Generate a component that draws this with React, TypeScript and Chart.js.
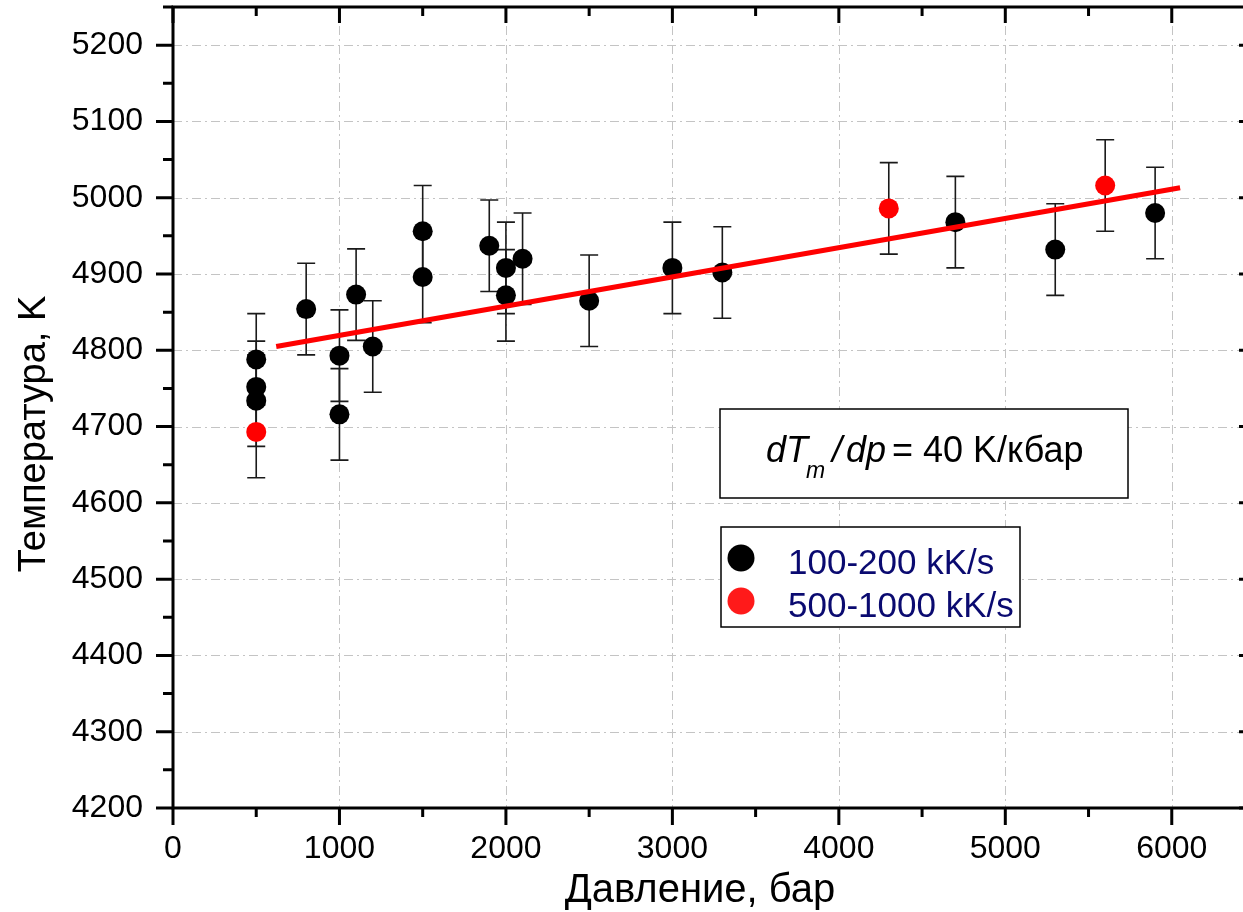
import React, { useEffect, useRef } from "react";
import { Chart, registerables } from "chart.js";

Chart.register(...registerables);

// ---- data ----
const blackX = [500, 500, 500, 800, 1000, 1000, 1100, 1200, 1500, 1500, 1900, 2000, 2000, 2100, 2500, 3000, 3300, 4700, 5300, 5900];
const blackY = [4788, 4752, 4734, 4854, 4793, 4716, 4873, 4805, 4956, 4896, 4937, 4908, 4872, 4920, 4865, 4908, 4902, 4968, 4932, 4980];
const blackErr = [60, 60, 60, 60, 60, 60, 60, 60, 60, 60, 60, 60, 60, 60, 60, 60, 60, 60, 60, 60];

const redX = [500, 4300, 5600];
const redY = [4693, 4986, 5016];
const redErr = [60, 60, 60];

const fitX = [620, 6050];
const fitY = [4805, 5013];

const xTicks = [0, 1000, 2000, 3000, 4000, 5000, 6000];
const yTicks = [4200, 4300, 4400, 4500, 4600, 4700, 4800, 4900, 5000, 5100, 5200];

const seriesLabels = ["100-200 kK/s", "500-1000 kK/s"];
const xTitle = "Давление, бар";
const yTitle = "Температура, K";

const FONT = "'Liberation Sans', Arial, sans-serif";

const errorBarPlugin = {
  id: "errorBars",
  beforeDatasetsDraw(chart: any) {
    const { ctx, chartArea: ca, scales } = chart;
    const xs = scales.x;
    const ys = scales.y;
    ctx.save();
    // grid lines
    ctx.strokeStyle = "#c4c4c4";
    ctx.lineWidth = 1;
    ctx.setLineDash([9, 4, 2, 4]);
    xTicks.forEach((v) => {
      if (v === 0) return;
      const px = Math.round(xs.getPixelForValue(v)) + 0.5;
      ctx.beginPath();
      ctx.moveTo(px, ca.top);
      ctx.lineTo(px, ca.bottom);
      ctx.stroke();
    });
    yTicks.forEach((v) => {
      if (v === 4200) return;
      const py = Math.round(ys.getPixelForValue(v)) + 0.5;
      ctx.beginPath();
      ctx.moveTo(ca.left, py);
      ctx.lineTo(ca.right, py);
      ctx.stroke();
    });
    ctx.setLineDash([]);
    // error bars
    ctx.strokeStyle = "#1a1a1a";
    ctx.lineWidth = 1.6;
    const drawBars = (X: number[], Y: number[], E: number[]) => {
      X.forEach((xv, i) => {
        const px = xs.getPixelForValue(xv);
        const top = ys.getPixelForValue(Y[i] + E[i]);
        const bot = ys.getPixelForValue(Y[i] - E[i]);
        ctx.beginPath();
        ctx.moveTo(px, top);
        ctx.lineTo(px, bot);
        ctx.moveTo(px - 9, top);
        ctx.lineTo(px + 9, top);
        ctx.moveTo(px - 9, bot);
        ctx.lineTo(px + 9, bot);
        ctx.stroke();
      });
    };
    drawBars(blackX, blackY, blackErr);
    drawBars(redX, redY, redErr);
    ctx.restore();
  },
  afterDraw(chart: any) {
    const { ctx, chartArea: ca, scales } = chart;
    const xs = scales.x;
    const ys = scales.y;
    ctx.save();
    // frame
    ctx.strokeStyle = "#000";
    ctx.lineWidth = 3;
    ctx.lineCap = "butt";
    ctx.beginPath();
    ctx.moveTo(ca.left, ca.top);
    ctx.lineTo(ca.right, ca.top);
    ctx.moveTo(ca.left, ca.bottom);
    ctx.lineTo(ca.right, ca.bottom);
    ctx.moveTo(ca.left, ca.top - 1.5);
    ctx.lineTo(ca.left, ca.bottom + 1.5);
    ctx.moveTo(ca.right, ca.top - 1.5);
    ctx.lineTo(ca.right, ca.bottom + 1.5);
    ctx.stroke();
    // ticks
    ctx.beginPath();
    for (let v = 0; v <= 6500; v += 500) {
      const px = xs.getPixelForValue(v);
      const major = v % 1000 === 0;
      ctx.moveTo(px, ca.bottom);
      ctx.lineTo(px, ca.bottom + (major ? 17 : 9));
      ctx.moveTo(px, ca.top);
      ctx.lineTo(px, ca.top + (major ? 16 : 9));
    }
    for (let v = 4200; v <= 5250; v += 50) {
      const py = ys.getPixelForValue(v);
      const major = v % 100 === 0;
      ctx.moveTo(ca.left, py);
      ctx.lineTo(ca.left - (major ? 17 : 10), py);
      ctx.moveTo(ca.right, py);
      ctx.lineTo(ca.right - (major ? 16 : 9), py);
    }
    ctx.stroke();

    // axis titles
    ctx.fillStyle = "#000";
    ctx.font = `38px ${FONT}`;
    ctx.textAlign = "center";
    ctx.textBaseline = "alphabetic";
    ctx.save();
    ctx.translate(45, 434);
    ctx.rotate(-Math.PI / 2);
    ctx.fillText(yTitle, 0, 0);
    ctx.restore();
    ctx.font = `40px ${FONT}`;
    ctx.fillText(xTitle, 700, 902);

    // annotation box
    ctx.fillStyle = "#fff";
    ctx.fillRect(720, 409, 408, 89);
    ctx.strokeStyle = "#000";
    ctx.lineWidth = 1.5;
    ctx.strokeRect(720, 409, 408, 89);
    ctx.fillStyle = "#000";
    ctx.textAlign = "left";
    ctx.font = `italic 36px ${FONT}`;
    ctx.fillText("dT", 766, 462);
    ctx.font = `italic 23px ${FONT}`;
    ctx.fillText("m", 806, 478);
    ctx.font = `italic 36px ${FONT}`;
    ctx.fillText("/", 832, 462);
    ctx.fillText("dp", 846, 462);
    ctx.font = `36px ${FONT}`;
    ctx.fillText("= 40 K/кбар", 892, 462);

    // legend box
    ctx.fillStyle = "#fff";
    ctx.fillRect(721, 527, 299, 100);
    ctx.strokeStyle = "#000";
    ctx.lineWidth = 1.5;
    ctx.strokeRect(721, 527, 299, 100);
    const colors = ["#000000", "#ff1a1a"];
    const ly = [558, 601];
    seriesLabels.forEach((lab, i) => {
      ctx.fillStyle = colors[i];
      ctx.beginPath();
      ctx.arc(741, ly[i], 13.5, 0, Math.PI * 2);
      ctx.fill();
      ctx.fillStyle = "#0a0a70";
      ctx.font = `35px ${FONT}`;
      ctx.fillText(lab, 788, ly[i] + 16);
    });
    ctx.restore();
  },
};

export default function App() {
  const ref = useRef<HTMLCanvasElement>(null);
  useEffect(() => {
    document.body.style.margin = "0";
    const canvas = ref.current!;
    const chart = new Chart(canvas, {
      type: "scatter",
      data: {
        datasets: [
          {
            type: "line",
            label: "fit",
            data: fitX.map((x, i) => ({ x, y: fitY[i] })),
            borderColor: "#ff0000",
            borderWidth: 5,
            pointRadius: 0,
            fill: false,
            order: 0,
          } as any,
          {
            label: seriesLabels[0],
            data: blackX.map((x, i) => ({ x, y: blackY[i] })),
            backgroundColor: "#000000",
            borderWidth: 0,
            pointRadius: 10,
            order: 2,
          },
          {
            label: seriesLabels[1],
            data: redX.map((x, i) => ({ x, y: redY[i] })),
            backgroundColor: "#ff0000",
            borderWidth: 0,
            pointRadius: 10,
            order: 1,
          },
        ],
      },
      options: {
        animation: false,
        responsive: false,
        devicePixelRatio: 1,
        layout: { autoPadding: false, padding: { top: 7, right: 15, left: 0, bottom: 0 } },
        plugins: { legend: { display: false }, tooltip: { enabled: false } },
        scales: {
          x: {
            type: "linear",
            position: "bottom",
            min: 0,
            max: 6500,
            grid: { display: false, drawTicks: false },
            border: { display: false },
            ticks: {
              stepSize: 1000,
              color: "#000",
              font: { size: 32, family: FONT },
              padding: 22,
              maxRotation: 0,
              autoSkip: false,
              callback: (v: any) => String(v),
            },
            afterBuildTicks: (s: any) => {
              s.ticks = xTicks.map((v) => ({ value: v }));
            },
            afterFit: (s: any) => {
              s.height = 104;
              s.paddingLeft = 0;
              s.paddingRight = 0;
            },
          },
          y: {
            type: "linear",
            min: 4200,
            max: 5250,
            grid: { display: false, drawTicks: false },
            border: { display: false },
            ticks: {
              stepSize: 100,
              color: "#000",
              font: { size: 32, family: FONT },
              padding: 30,
              autoSkip: false,
              callback: (v: any) => String(v),
            },
            afterBuildTicks: (s: any) => {
              s.ticks = yTicks.map((v) => ({ value: v }));
            },
            afterFit: (s: any) => {
              s.width = 173;
              s.paddingTop = 0;
              s.paddingBottom = 0;
            },
          },
        },
      },
      plugins: [errorBarPlugin],
    });
    return () => chart.destroy();
  }, []);
  return (
    <div
      style={{
        position: "fixed",
        left: 0,
        top: 0,
        width: 1243,
        height: 912,
        overflow: "hidden",
        background: "#fff",
      }}
    >
      <canvas ref={ref} width={1270} height={912} style={{ display: "block" }} />
    </div>
  );
}
